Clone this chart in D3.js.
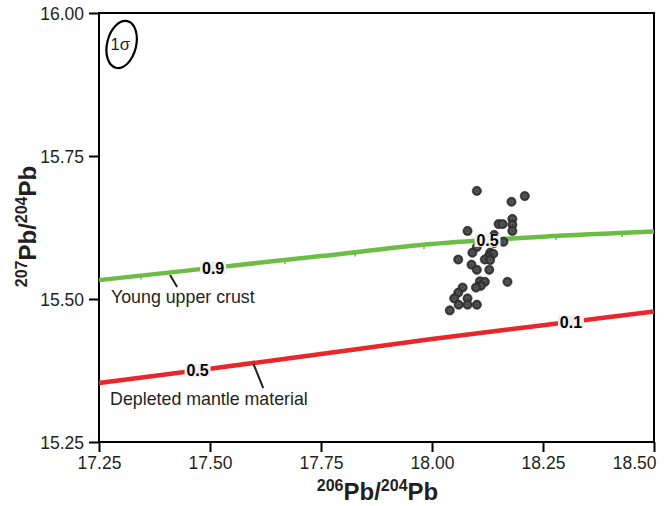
<!DOCTYPE html>
<html>
<head>
<meta charset="utf-8">
<script src="https://cdn.jsdelivr.net/npm/d3@7"></script>
<style>
  body { margin: 0; background: #fff; }
  svg text { font-family: "Liberation Sans", Arial, sans-serif; }
</style>
</head>
<body>
<div id="graph"></div>
<script>
// axis ticks
const xTicks = [17.25, 17.5, 17.75, 18.0, 18.25, 18.5];
const yTicks = [15.25, 15.5, 15.75, 16.0];

// measured samples, 206Pb/204Pb and 207Pb/204Pb
const sampleX = [18.101, 18.209, 18.179, 18.181, 18.181, 18.181, 18.150, 18.159, 18.080, 18.140,
  18.161, 18.140, 18.101, 18.091, 18.131, 18.138, 18.127, 18.119, 18.131, 18.059,
  18.089, 18.101, 18.129, 18.108, 18.119, 18.170, 18.110, 18.099, 18.069, 18.059,
  18.050, 18.080, 18.060, 18.080, 18.101, 18.040];
const sampleY = [15.689, 15.680, 15.670, 15.640, 15.630, 15.619, 15.631, 15.631, 15.619, 15.612,
  15.600, 15.598, 15.591, 15.581, 15.581, 15.579, 15.574, 15.569, 15.568, 15.569,
  15.560, 15.551, 15.551, 15.531, 15.530, 15.530, 15.523, 15.520, 15.520, 15.511,
  15.501, 15.501, 15.490, 15.490, 15.490, 15.480];

// young upper crust growth curve
const crustX = [17.25, 17.5, 17.75, 18.0, 18.25, 18.5];
const crustY = [15.533, 15.554, 15.575, 15.596, 15.609, 15.618];
const crustMarks = [17.345, 17.507, 17.669, 17.827, 17.982, 18.13, 18.279, 18.428];
const crustLabels = ["0.9", "0.5"];
const crustLabelX = [17.507, 18.125];

// depleted mantle curve
const mantleX = [17.25, 17.5, 17.75, 18.0, 18.25, 18.5];
const mantleY = [15.353, 15.378, 15.404, 15.430, 15.454, 15.478];
const mantleLabels = ["0.5", "0.1"];
const mantleLabelX = [17.472, 18.313];

// curve names and leaders
const curveNames = ["Young upper crust", "Depleted mantle material"];
const nameX = [17.277, 17.275];
const nameY = [15.4925, 15.315];
const leaderFrom = [[17.41, 15.542], [17.598, 15.386]];
const leaderTo = [[17.426, 15.521], [17.62, 15.344]];

// 1 sigma error ellipse centre
const sigmaCentre = [17.301, 15.945];

let margin = { top: 13, right: 14, bottom: 64, left: 99 },
  width = 668 - margin.left - margin.right,
  height = 506 - margin.top - margin.bottom;

let svgRoot = d3
  .select("#graph")
  .append("svg")
  .attr("width", 668)
  .attr("height", 506);
let svg = svgRoot
  .append("g")
  .attr("transform", "translate(" + margin.left + "," + margin.top + ")");

let x = d3.scaleLinear().domain([17.25, 18.5]).range([0, width]);
let y = d3.scaleLinear().domain([15.25, 16.0]).range([height, 0]);

drawAxes();
let crust = drawCurve(crustX, crustY, "#6cbd45", crustMarks);
let mantle = drawCurve(mantleX, mantleY, "#e8262b", []);
drawNames();
drawSigma();
drawSamples();
//labels go over the dots, as in the original
drawCurveLabels(crust, crustLabels, crustLabelX);
drawCurveLabels(mantle, mantleLabels, mantleLabelX);
drawTitles();

function drawAxes() {
  //frame first
  svg
    .append("rect")
    .attr("width", width)
    .attr("height", height)
    .attr("fill", "none")
    .attr("stroke", "#000")
    .attr("stroke-width", 2);

  let xAxis = svg
    .append("g")
    .attr("transform", "translate(0," + height + ")")
    .call(d3.axisBottom(x).tickValues(xTicks).tickSize(10).tickPadding(5).tickFormat(d3.format(".2f")));
  let yAxis = svg
    .append("g")
    .call(d3.axisLeft(y).tickValues(yTicks).tickSize(10).tickPadding(5).tickFormat(d3.format(".2f")));

  [xAxis, yAxis].forEach((a) => {
    a.select(".domain").remove();
    a.selectAll("line").attr("stroke", "#000").attr("stroke-width", 2);
    a.selectAll("text")
      .style("font-size", "17.5px")
      .attr("fill", "#231f20");
  });
  yAxis.selectAll("text").attr("dy", "0.36em");
  //last x label is pulled inside so it fits the page
  xAxis
    .selectAll("text")
    .filter((d) => d === xTicks[xTicks.length - 1])
    .attr("text-anchor", "end")
    .attr("dx", 2);
}

function drawCurve(xs, ys, colour, marks) {
  let pts = xs.map((d, i) => [d, ys[i]]);
  let along = d3.scaleLinear().domain(xs).range(ys);

  svg
    .append("path")
    .datum(pts)
    .attr("fill", "none")
    .attr("stroke", colour)
    .attr("stroke-width", 4.5)
    .attr("d", d3.line().x((d) => x(d[0])).y((d) => y(d[1])).curve(d3.curveMonotoneX));

  // little age ticks under the curve
  svg
    .append("g")
    .selectAll("line")
    .data(marks)
    .enter()
    .append("line")
    .attr("x1", (d) => x(d))
    .attr("x2", (d) => x(d))
    .attr("y1", (d) => y(along(d)))
    .attr("y2", (d) => y(along(d)) + 4)
    .attr("stroke", colour)
    .attr("stroke-width", 1.5);

  return along;
}

// age labels sitting on the curve
function drawCurveLabels(along, labels, labelX) {
  let g = svg
    .append("g")
    .selectAll("g")
    .data(labels)
    .enter()
    .append("g")
    .attr("transform", (d, i) => "translate(" + x(labelX[i]) + "," + y(along(labelX[i])) + ")");
  g.append("rect")
    .attr("x", -13)
    .attr("y", -6.5)
    .attr("width", 26)
    .attr("height", 13)
    .attr("fill", "#efefef");
  g.append("text")
    .attr("text-anchor", "middle")
    .attr("dy", "0.36em")
    .style("font-size", "16px")
    .style("font-weight", "bold")
    .attr("fill", "#000")
    .text((d) => d);
}

function drawNames() {
  svg
    .append("g")
    .selectAll("line")
    .data(leaderFrom)
    .enter()
    .append("line")
    .attr("x1", (d) => x(d[0]))
    .attr("y1", (d) => y(d[1]))
    .attr("x2", (d, i) => x(leaderTo[i][0]))
    .attr("y2", (d, i) => y(leaderTo[i][1]))
    .attr("stroke", "#231f20")
    .attr("stroke-width", 2);

  svg
    .append("g")
    .selectAll("text")
    .data(curveNames)
    .enter()
    .append("text")
    .attr("x", (d, i) => x(nameX[i]))
    .attr("y", (d, i) => y(nameY[i]))
    .style("font-size", "17.8px")
    .attr("fill", "#231f20")
    .text((d) => d);
}

function drawSigma() {
  let g = svg
    .append("g")
    .attr("transform", "translate(" + x(sigmaCentre[0]) + "," + y(sigmaCentre[1]) + ")");
  g.append("ellipse")
    .attr("rx", 14.5)
    .attr("ry", 24)
    .attr("transform", "rotate(14)")
    .attr("fill", "none")
    .attr("stroke", "#000")
    .attr("stroke-width", 2.2);
  g.append("text")
    .attr("text-anchor", "middle")
    .attr("dy", "0.36em")
    .attr("x", -1.5)
    .style("font-size", "16.5px")
    .attr("fill", "#231f20")
    .text("1σ");
}

function drawSamples() {
  let g = svg
    .append("g")
    .selectAll("g")
    .data(sampleX)
    .enter()
    .append("g")
    .attr("transform", (d, i) => "translate(" + x(d) + "," + y(sampleY[i]) + ")");
  g.append("circle")
    .attr("r", 4.6)
    .attr("fill", "#3a3a3a")
    .attr("stroke", "#1c1c1c")
    .attr("stroke-width", 0.6);
  g.append("circle")
    .attr("r", 1.7)
    .attr("fill", "none")
    .attr("stroke", "#8a8a8a")
    .attr("stroke-width", 0.6);
}

function drawTitles() {
  let xt = svgRoot
    .append("text")
    .attr("x", margin.left + width / 2 + 1)
    .attr("y", 500)
    .attr("text-anchor", "middle")
    .style("font-weight", "bold")
    .attr("fill", "#231f20");
  addIsotopeText(xt, "206", "204");

  let yt = svgRoot
    .append("text")
    .attr("transform", "translate(36," + (margin.top + height / 2 - 1) + ") rotate(-90)")
    .attr("text-anchor", "middle")
    .style("font-weight", "bold")
    .attr("fill", "#231f20");
  addIsotopeText(yt, "207", "204");
}

function addIsotopeText(t, top, bottom) {
  t.append("tspan").style("font-size", "16px").attr("dy", -9).text(top);
  t.append("tspan").style("font-size", "24px").attr("dy", 9).text("Pb/");
  t.append("tspan").style("font-size", "16px").attr("dy", -9).text(bottom);
  t.append("tspan").style("font-size", "24px").attr("dy", 9).text("Pb");
}
</script>
</body>
</html>
